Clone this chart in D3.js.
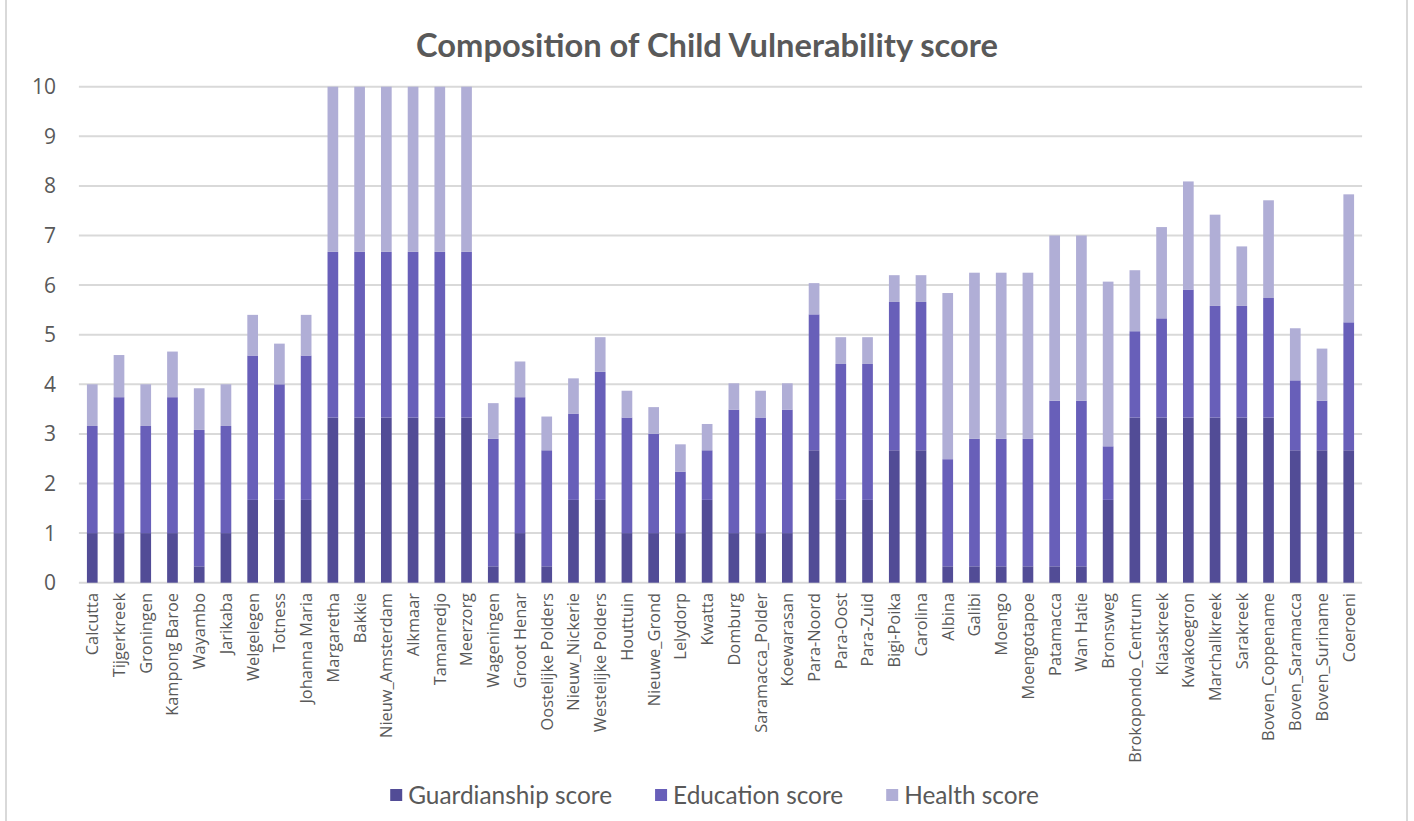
<!DOCTYPE html>
<html>
<head>
<meta charset="utf-8">
<script src="https://cdn.jsdelivr.net/npm/d3@7"></script>
<style>
  body { margin: 0; background: #ffffff; }
  text { font-family: "Open Sans", "Noto Sans", sans-serif; fill: #595959; }
</style>
</head>
<body>
<svg id="chart" width="1414" height="821"></svg>
<script>
// Resorts (districts) in display order
const categories = [
  "Calcutta", "Tijgerkreek", "Groningen", "Kampong Baroe", "Wayambo", "Jarikaba",
  "Welgelegen", "Totness", "Johanna Maria", "Margaretha", "Bakkie", "Nieuw_Amsterdam",
  "Alkmaar", "Tamanredjo", "Meerzorg", "Wageningen", "Groot Henar", "Oostelijke Polders",
  "Nieuw_Nickerie", "Westelijke Polders", "Houttuin", "Nieuwe_Grond", "Lelydorp", "Kwatta",
  "Domburg", "Saramacca_Polder", "Koewarasan", "Para-Noord", "Para-Oost", "Para-Zuid",
  "Bigi-Poika", "Carolina", "Albina", "Galibi", "Moengo", "Moengotapoe",
  "Patamacca", "Wan Hatie", "Bronsweg", "Brokopondo_Centrum", "Klaaskreek", "Kwakoegron",
  "Marchallkreek", "Sarakreek", "Boven_Coppename", "Boven_Saramacca", "Boven_Suriname", "Coeroeni"
];

// Component scores per resort
const guardianship = [
  1, 1, 1, 1, 0.33, 1,
  1.67, 1.67, 1.67, 3.33, 3.33, 3.33,
  3.33, 3.33, 3.33, 0.33, 1, 0.33,
  1.67, 1.67, 1, 1, 1, 1.67,
  1, 1, 1, 2.67, 1.67, 1.67,
  2.67, 2.67, 0.33, 0.33, 0.33, 0.33,
  0.33, 0.33, 1.67, 3.33, 3.33, 3.33,
  3.33, 3.33, 3.33, 2.67, 2.67, 2.67
];
const education = [
  2.16, 2.74, 2.16, 2.74, 2.75, 2.16,
  2.91, 2.33, 2.91, 3.34, 3.34, 3.34,
  3.34, 3.34, 3.34, 2.57, 2.74, 2.34,
  1.74, 2.58, 2.33, 2.0, 1.24, 1.0,
  2.49, 2.33, 2.49, 2.74, 2.74, 2.74,
  2.99, 2.99, 2.16, 2.57, 2.57, 2.57,
  3.34, 3.34, 1.08, 1.74, 2.0, 2.58,
  2.25, 2.25, 2.41, 1.41, 1.0, 2.58
];
const health = [
  0.84, 0.85, 0.84, 0.92, 0.84, 0.84,
  0.82, 0.82, 0.82, 3.33, 3.33, 3.33,
  3.33, 3.33, 3.33, 0.72, 0.72, 0.68,
  0.71, 0.70, 0.54, 0.54, 0.55, 0.53,
  0.53, 0.54, 0.53, 0.63, 0.54, 0.54,
  0.54, 0.54, 3.35, 3.35, 3.35, 3.35,
  3.33, 3.33, 3.32, 1.23, 1.84, 2.18,
  1.84, 1.20, 1.97, 1.05, 1.05, 2.58
];

const seriesKeys = ["Guardianship score", "Education score", "Health score"];
const seriesColors = ["#524c96", "#685fb9", "#b0aed6"];
const yTicks = [0, 1, 2, 3, 4, 5, 6, 7, 8, 9, 10];
const chartTitle = "Composition of Child Vulnerability score";

const rows = categories.map((c, i) => ({
  name: c,
  "Guardianship score": guardianship[i],
  "Education score": education[i],
  "Health score": health[i]
}));

const svg = d3.select("#chart");

// Frame edges
svg.append("line").attr("x1", 6).attr("x2", 6).attr("y1", 0).attr("y2", 821)
  .attr("stroke", "#d9d9d9").attr("stroke-width", 2);
svg.append("line").attr("x1", 1407).attr("x2", 1407).attr("y1", 0).attr("y2", 821)
  .attr("stroke", "#d9d9d9").attr("stroke-width", 2);

const plotLeft = 78.9, plotRight = 1362.1, plotTop = 86.7, plotBottom = 582.7;

const x = d3.scaleBand().domain(categories).range([plotLeft, plotRight])
  .paddingInner(0.6).paddingOuter(0.3);
const y = d3.scaleLinear().domain([0, 10]).range([plotBottom, plotTop]);
const color = d3.scaleOrdinal().domain(seriesKeys).range(seriesColors);

// Fit a text element's font size so its rendered width equals a target width
function fitWidth(sel, target) {
  const base = parseFloat(sel.style("font-size"));
  const w = sel.node().getComputedTextLength();
  sel.style("font-size", (base * target / w) + "px");
}

// Title
const title = svg.append("text")
  .attr("x", 707).attr("y", 57)
  .attr("text-anchor", "middle")
  .style("font-family", "Lato, 'Open Sans', sans-serif")
  .style("font-weight", "bold").style("font-size", "28px")
  .text(chartTitle);
fitWidth(title, 582);

// Gridlines
svg.append("g").selectAll("line").data(yTicks).join("line")
  .attr("x1", plotLeft).attr("x2", plotRight)
  .attr("y1", d => y(d)).attr("y2", d => y(d))
  .attr("stroke", "#d9d9d9").attr("stroke-width", 2);

// Y axis labels
svg.append("g").selectAll("text").data(yTicks).join("text")
  .attr("x", 56).attr("y", d => y(d)).attr("dy", "0.36em")
  .attr("text-anchor", "end").style("font-size", "21px")
  .text(d => d);

// Stacked bars
const stacked = d3.stack().keys(seriesKeys)(rows);
svg.append("g").selectAll("g").data(stacked).join("g")
  .attr("fill", d => color(d.key))
  .selectAll("rect").data(d => d).join("rect")
  .attr("x", d => x(d.data.name))
  .attr("width", x.bandwidth())
  .attr("y", d => y(d[1]))
  .attr("height", d => y(d[0]) - y(d[1]));

// X axis category labels
const xl = svg.append("g").selectAll("text").data(categories).join("text")
  .attr("transform", d => `translate(${x(d) + x.bandwidth() / 2},593) rotate(-90)`)
  .attr("dy", "0.36em").attr("text-anchor", "end")
  .style("font-size", "17.5px")
  .text(d => d);
const longest = xl.filter(d => d === "Brokopondo_Centrum");
const baseSize = parseFloat(longest.style("font-size"));
const ratio = 170 / longest.node().getComputedTextLength();
xl.style("font-size", (baseSize * ratio) + "px");

// Legend
const legend = svg.append("g");
const items = legend.selectAll("g").data(seriesKeys).join("g");
items.append("rect").attr("width", 12).attr("height", 12).attr("y", -6)
  .attr("fill", d => color(d));
const legendTexts = items.append("text").attr("x", 18).attr("dy", "0.36em")
  .style("font-family", "Lato, 'Open Sans', sans-serif")
  .style("font-size", "21px").text(d => d);
fitWidth(legendTexts.filter(d => d === "Guardianship score"), 204);
const lsize = legendTexts.filter(d => d === "Guardianship score").style("font-size");
legendTexts.style("font-size", lsize);
let cursor = 0;
const widths = [];
legendTexts.each(function () { widths.push(this.getComputedTextLength()); });
items.attr("transform", (d, i) => {
  const tx = cursor;
  cursor += 18 + widths[i] + 43;
  return `translate(${tx},0)`;
});
const totalW = cursor - 43;
legend.attr("transform", `translate(${714.5 - totalW / 2},795)`);
</script>
</body>
</html>
